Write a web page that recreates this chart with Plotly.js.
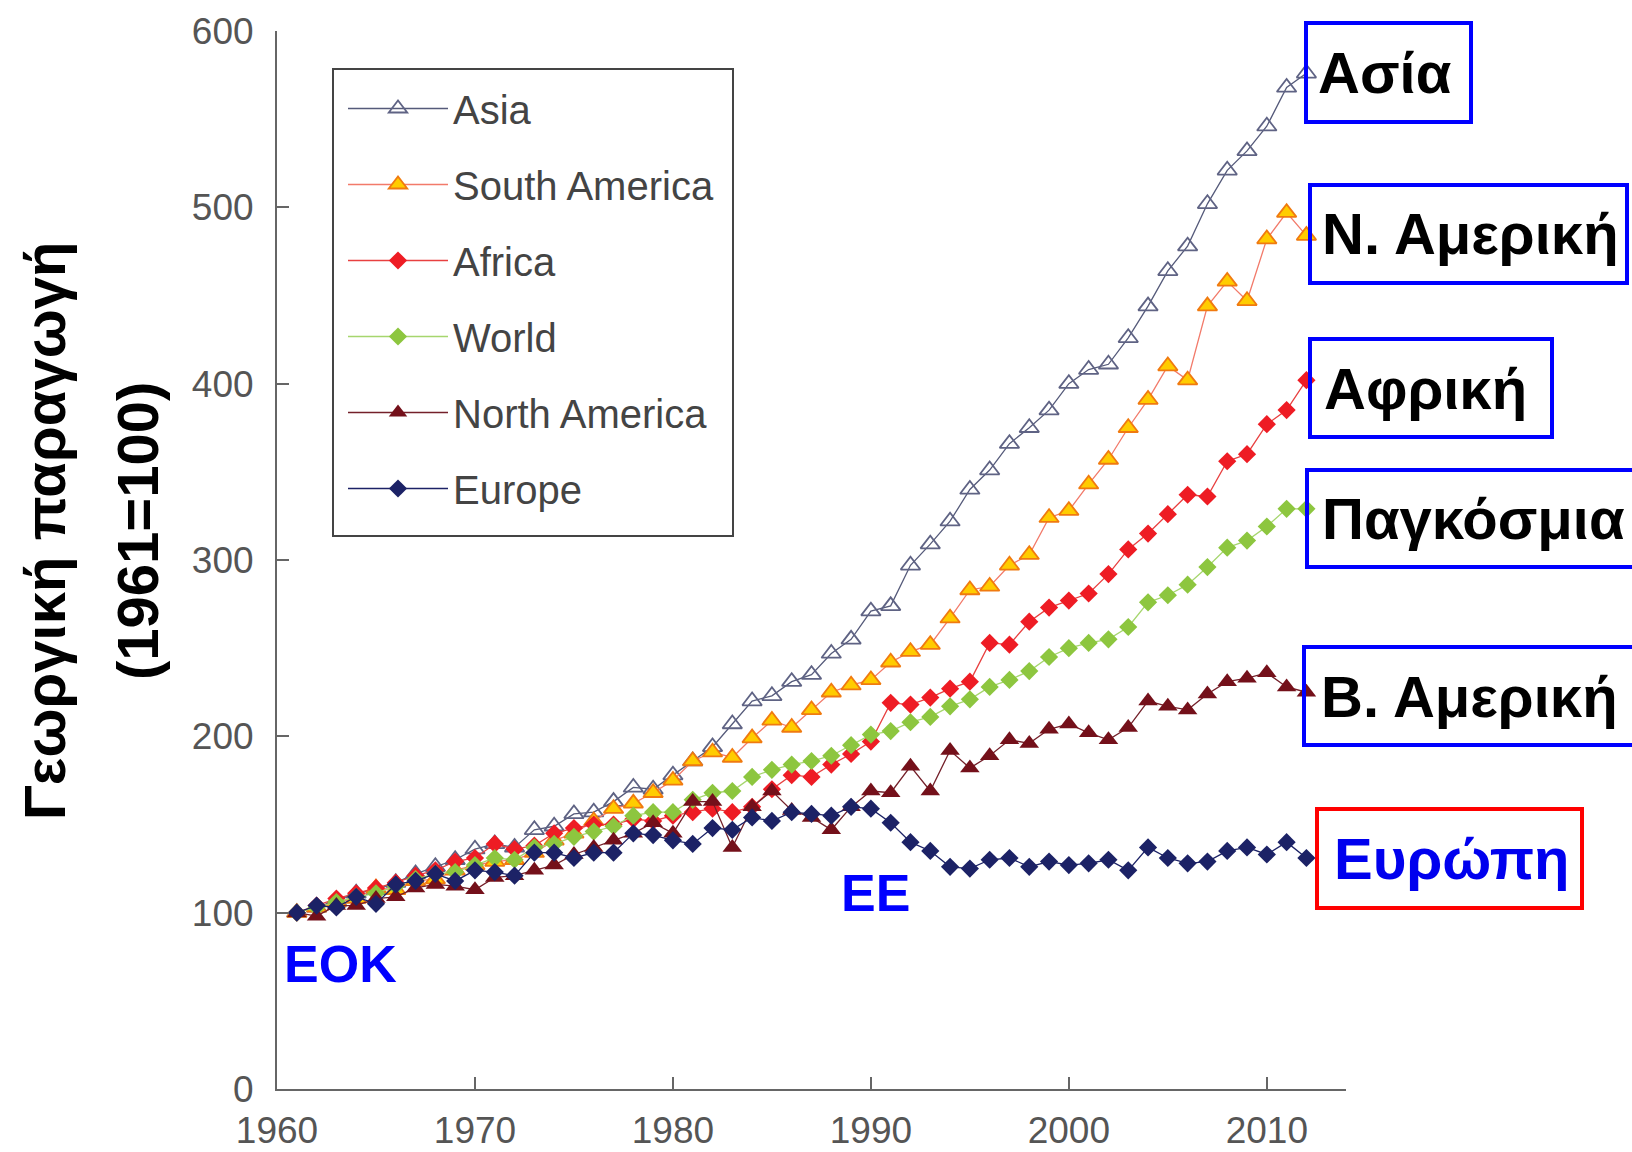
<!DOCTYPE html>
<html>
<head>
<meta charset="utf-8">
<script src="https://cdn.plot.ly/plotly-3.0.1.min.js"></script>
<style>
html,body{margin:0;padding:0;background:#fff;}
#chart{width:1632px;height:1152px;}
</style>
</head>
<body>
<div id="chart"></div>
<script>
// ---------- DATA ----------
const years = [1961,1962,1963,1964,1965,1966,1967,1968,1969,1970,
               1971,1972,1973,1974,1975,1976,1977,1978,1979,1980,
               1981,1982,1983,1984,1985,1986,1987,1988,1989,1990,
               1991,1992,1993,1994,1995,1996,1997,1998,1999,2000,
               2001,2002,2003,2004,2005,2006,2007,2008,2009,2010,
               2011,2012];

const asia = [100,103,107,111,113,117,122,126,130,136,
              139,137,147,149,156,157,163,171,170,178,
              186,194,207,220,223,231,235,247,255,271,
              274,297,309,322,340,351,366,375,385,400,
              408,411,426,444,464,478,502,521,532,546,
              568,576];

const southAmerica = [100,103,106,108,114,113,118,119,124,127,
                      129,130,134,141,145,152,159,162,168,175,
                      186,191,188,199,209,205,215,225,229,232,
                      242,248,252,267,283,285,297,303,324,328,
                      343,357,375,391,410,402,444,458,447,482,
                      497,484];

const africa = [100,104,108,111,114,117,121,124,129,131,
                139,136,138,145,148,150,150,153,152,155,
                157,159,157,160,170,178,177,184,190,197,
                219,218,222,227,231,253,252,265,273,277,
                281,292,306,315,326,337,336,356,360,377,
                385,402];

const world = [100,103,106,109,111,115,119,122,123,127,
               131,130,137,139,143,146,149,155,157,157,
               164,168,169,177,181,184,186,189,195,201,
               203,208,211,217,221,228,232,237,245,250,
               253,255,262,276,280,286,296,307,311,319,
               329,329];

const northAmerica = [100,98,104,104,108,109,114,116,115,113,
                      120,121,124,127,133,137,141,145,151,145,
                      163,163,137,160,169,158,154,147,160,169,
                      168,183,169,192,182,189,198,196,204,207,
                      202,198,205,220,217,215,224,231,233,236,
                      228,225];

const europe = [100,104,103,109,105,116,118,122,118,124,
                123,121,134,134,131,134,134,145,144,141,
                139,148,147,154,152,157,156,155,160,159,
                151,140,135,126,125,130,131,126,129,127,
                128,130,124,137,131,128,129,135,137,133,
                140,131];

const seriesNames = ["Asia","South America","Africa","World","North America","Europe"];
const yTicks = [0,100,200,300,400,500,600];
const xTicks = [1960,1970,1980,1990,2000,2010];

const regionLabels = ["Ασία","Ν. Αμερική","Αφρική","Παγκόσμια","Β. Αμερική","Ευρώπη"];
const yTitleLines = ["Γεωργική παραγωγή","(1961=100)"];
const eventLabels = ["ΕΟΚ","ΕΕ"];

// ---------- LAYOUT HELPERS ----------
const W = 1632, H = 1152;
const M = {l:277, r:286, t:31, b:63};
const PW = W - M.l - M.r, PH = H - M.t - M.b;
const px = x => (x - M.l) / PW;
const py = y => (H - M.b - y) / PH;

const FONT = "Liberation Sans, Arial, Helvetica, sans-serif";

function trace(name, y, symbol, mcolor, mline, lcolor, size, group) {
  return {
    type: "scatter", mode: "lines+markers", name: name,
    x: years, y: y, legendgroup: group,
    line: {color: lcolor, width: 1.3},
    marker: {symbol: symbol, size: size, color: mcolor,
             line: {color: mline.color, width: mline.width}},
    hoverinfo: "skip"
  };
}

const data = [
  trace(seriesNames[0], asia, "triangle-up-open", "#5f6384", {color:"#5f6384", width:1.8}, "#555a7a", 17, "g1"),
  trace(seriesNames[1], southAmerica, "triangle-up", "#ffcc00", {color:"#f07a10", width:1.8}, "#f27a6a", 17, "g2"),
  trace(seriesNames[2], africa, "diamond", "#ee1c24", {color:"#ee1c24", width:0}, "#e84040", 14, "g3"),
  trace(seriesNames[3], world, "diamond", "#8dc63f", {color:"#8dc63f", width:0}, "#a6d66e", 14, "g4"),
  trace(seriesNames[4], northAmerica, "triangle-up", "#74101a", {color:"#74101a", width:0}, "#74202a", 17, "g5"),
  trace(seriesNames[5], europe, "diamond", "#1c2266", {color:"#1c2266", width:0}, "#1c2266", 14, "g6")
];

// region label boxes (pixel boxes in the image)
const boxes = [
  {x0:1306, y0:23,  x1:1471, y1:122, tx:1316, color:"#0000ff", tcolor:"#000000"},
  {x0:1310, y0:185, x1:1627, y1:283, tx:1320, color:"#0000ff", tcolor:"#000000"},
  {x0:1310, y0:339, x1:1552, y1:437, tx:1322, color:"#0000ff", tcolor:"#000000"},
  {x0:1307, y0:470, x1:1640, y1:567, tx:1320, color:"#0000ff", tcolor:"#000000"},
  {x0:1304, y0:647, x1:1640, y1:745, tx:1319, color:"#0000ff", tcolor:"#000000"},
  {x0:1317, y0:809, x1:1582, y1:908, tx:1332, color:"#ff0000", tcolor:"#0000ee"}
];

const shapes = boxes.map(b => ({
  type:"rect", xref:"paper", yref:"paper",
  x0:px(b.x0), x1:px(b.x1), y0:py(b.y1), y1:py(b.y0),
  line:{color:b.color, width:4}, fillcolor:"rgba(0,0,0,0)", layer:"above"
}));

// legend frame
shapes.push({
  type:"rect", xref:"paper", yref:"paper",
  x0:px(333), x1:px(733), y0:py(536), y1:py(69),
  line:{color:"#444", width:2}, fillcolor:"#ffffff", layer:"above"
});

const annotations = boxes.map((b,i) => ({
  xref:"paper", yref:"paper", x:px(b.tx), y:py((b.y0+b.y1)/2),
  xanchor:"left", yanchor:"middle", showarrow:false,
  text: regionLabels[i],
  font:{family:FONT, size:58, color:b.tcolor, weight:700}
}));

annotations.push(
  {xref:"paper", yref:"paper", x:px(44), y:py(531), textangle:-90, showarrow:false,
   xanchor:"center", yanchor:"middle", text:yTitleLines[0],
   font:{family:FONT, size:58, color:"#000", weight:700}},
  {xref:"paper", yref:"paper", x:px(137), y:py(531), textangle:-90, showarrow:false,
   xanchor:"center", yanchor:"middle", text:yTitleLines[1],
   font:{family:FONT, size:58, color:"#000", weight:700}},
  {xref:"paper", yref:"paper", x:px(340), y:py(964), showarrow:false,
   xanchor:"center", yanchor:"middle", text:eventLabels[0],
   font:{family:FONT, size:52, color:"#0000ff", weight:700}},
  {xref:"paper", yref:"paper", x:px(875), y:py(893), showarrow:false,
   xanchor:"center", yanchor:"middle", text:eventLabels[1],
   font:{family:FONT, size:52, color:"#0000ff", weight:700}}
);

const layout = {
  width:W, height:H,
  margin:{l:M.l, r:M.r, t:M.t, b:M.b, pad:0},
  paper_bgcolor:"#fff", plot_bgcolor:"#fff",
  showlegend:true,
  legend:{
    x:px(343), y:py(76), xanchor:"left", yanchor:"top",
    bgcolor:"rgba(0,0,0,0)", borderwidth:0,
    font:{family:FONT, size:40, color:"#444"},
    tracegroupgap:21, itemwidth:100, traceorder:"grouped"
  },
  xaxis:{
    range:[1960, 2014], tickvals:xTicks, ticktext:xTicks.map(String),
    showgrid:false, zeroline:false, showline:true, linecolor:"#666", linewidth:2,
    ticks:"inside", ticklen:12, tickwidth:2, tickcolor:"#666",
    tickfont:{family:FONT, size:37, color:"#555"}, ticklabelstandoff:8
  },
  yaxis:{
    range:[0, 600], tickvals:yTicks, ticktext:yTicks.map(String),
    showgrid:false, zeroline:false, showline:true, linecolor:"#666", linewidth:2,
    ticks:"inside", ticklen:12, tickwidth:2, tickcolor:"#666",
    tickfont:{family:FONT, size:37, color:"#555"}, ticklabelstandoff:14
  },
  shapes:shapes,
  annotations:annotations
};

Plotly.newPlot("chart", data, layout, {displayModeBar:false, staticPlot:true});
</script>
</body>
</html>
